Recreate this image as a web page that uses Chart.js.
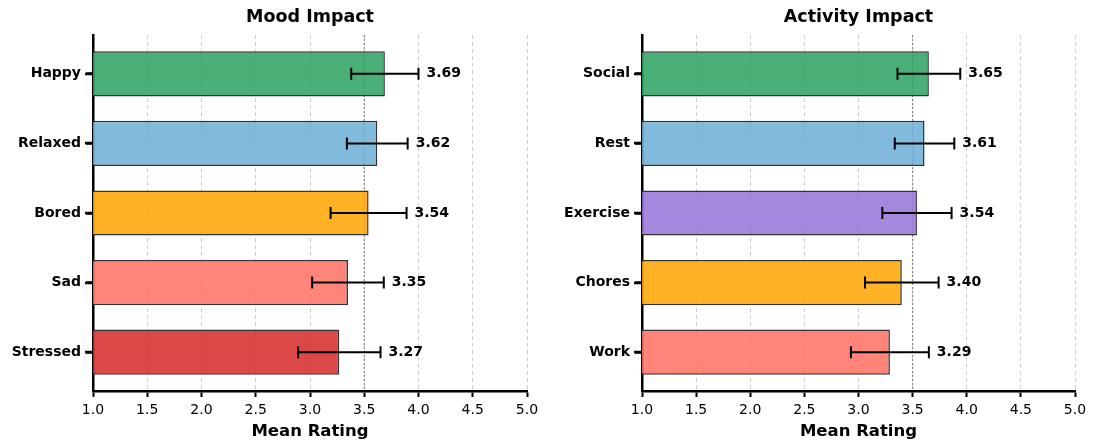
<!DOCTYPE html>
<html>
<head>
<meta charset="utf-8">
<script src="https://cdn.jsdelivr.net/npm/chart.js@4.4.1/dist/chart.umd.min.js"></script>
<style>
  body { margin: 0; background: #fff; }
  .wrap { position: absolute; top: 0; width: 547px; height: 445px; }
</style>
</head>
<body>
<div class="wrap" style="left:0"><canvas id="moodChart" width="547" height="445"></canvas></div>
<div class="wrap" style="left:547px"><canvas id="activityChart" width="547" height="445"></canvas></div>
<script>
// Mood panel
const moodLabels = ["Happy", "Relaxed", "Bored", "Sad", "Stressed"];
const moodMeans = [3.69, 3.62, 3.54, 3.35, 3.27];
const moodErrors = [0.31, 0.28, 0.35, 0.33, 0.38];
const moodColors = ["rgba(44,162,95,0.85)", "rgba(107,174,214,0.85)", "rgba(255,165,0,0.85)", "rgba(255,111,97,0.85)", "rgba(214,39,40,0.85)"];

// Activity panel
const activityLabels = ["Social", "Rest", "Exercise", "Chores", "Work"];
const activityMeans = [3.65, 3.61, 3.54, 3.40, 3.29];
const activityErrors = [0.29, 0.275, 0.32, 0.34, 0.36];
const activityColors = ["rgba(44,162,95,0.85)", "rgba(107,174,214,0.85)", "rgba(150,114,216,0.85)", "rgba(255,165,0,0.85)", "rgba(255,111,97,0.85)"];

const xTicks = [1.0, 1.5, 2.0, 2.5, 3.0, 3.5, 4.0, 4.5, 5.0];
const refLine = 3.5;

const FONT = "'DejaVu Sans', sans-serif";

// draws the dotted reference line, error bars, value labels and y tick marks
const extrasPlugin = {
    id: "extras",
    beforeDatasetsDraw(chart) {
        const { ctx, chartArea, scales } = chart;
        const x = scales.x.getPixelForValue(refLine);
        ctx.save();
        ctx.strokeStyle = "rgba(120,120,120,0.8)";
        ctx.lineWidth = 1.3;
        ctx.setLineDash([2, 2]);
        ctx.beginPath();
        ctx.moveTo(x, chartArea.top);
        ctx.lineTo(x, chartArea.bottom);
        ctx.stroke();
        ctx.restore();
    },
    afterDatasetsDraw(chart) {
        const { ctx, scales, chartArea } = chart;
        const opts = chart.options.plugins.extras;
        ctx.save();
        ctx.strokeStyle = "#000";
        ctx.lineWidth = 2;
        ctx.fillStyle = "#000";
        ctx.font = "bold 14px " + FONT;
        ctx.textBaseline = "middle";
        opts.means.forEach((m, i) => {
            const y = scales.y.getPixelForValue(i);
            const lo = scales.x.getPixelForValue(m - opts.errors[i]);
            const hi = scales.x.getPixelForValue(m + opts.errors[i]);
            ctx.beginPath();
            ctx.moveTo(lo, y); ctx.lineTo(hi, y);
            ctx.moveTo(lo, y - 6); ctx.lineTo(lo, y + 6);
            ctx.moveTo(hi, y - 6); ctx.lineTo(hi, y + 6);
            ctx.stroke();
            ctx.fillText(m.toFixed(2), hi + 8, y);
        });
        // y tick marks
        ctx.lineWidth = 2.5;
        scales.y.ticks.forEach(t => {
            const y = Math.round(scales.y.getPixelForValue(t.value));
            ctx.beginPath();
            ctx.moveTo(chartArea.left, y);
            ctx.lineTo(chartArea.left - 8, y);
            ctx.stroke();
        });
        ctx.restore();
    }
};

function makeChart(canvasId, title, labels, means, errors, colors, yWidth, rightPad) {
    const ctx = document.getElementById(canvasId).getContext("2d");
    return new Chart(ctx, {
        type: "bar",
        data: {
            datasets: [{
                data: means.map((v, i) => ({ x: v, y: i })),
                backgroundColor: colors,
                borderColor: "#333",
                borderWidth: 1.5,
                borderSkipped: false,
                barPercentage: 0.65,
                categoryPercentage: 1.0
            }]
        },
        options: {
            indexAxis: "y",
            responsive: false,
            animation: false,
            layout: { padding: { left: 0, right: rightPad, top: 0, bottom: 0 } },
            plugins: {
                legend: { display: false },
                tooltip: { enabled: false },
                title: {
                    display: true,
                    fullSize: false,
                    text: title,
                    color: "#000",
                    font: { family: FONT, size: 17.5, weight: "bold" },
                    padding: { top: 7, bottom: 7 }
                },
                extras: { means: means, errors: errors }
            },
            scales: {
                x: {
                    type: "linear",
                    min: 1,
                    max: 5,
                    afterBuildTicks: (scale) => { scale.ticks = xTicks.map(v => ({ value: v })); },
                    afterFit: (scale) => { scale.height = 54; },
                    ticks: {
                        color: "#000",
                        font: { family: FONT, size: 14 },
                        padding: 5,
                        callback: (v) => Number(v).toFixed(1)
                    },
                    grid: {
                        color: "rgba(190,190,190,0.75)",
                        lineWidth: 1,
                        tickLength: 6,
                        tickColor: "#000",
                        tickWidth: 2,
                        tickBorderDash: []
                    },
                    border: { display: true, color: "#000", width: 2.5, dash: [4, 3] },
                    title: {
                        display: true,
                        text: "Mean Rating",
                        color: "#000",
                        font: { family: FONT, size: 16.5, weight: "bold" },
                        padding: { top: 0, bottom: 3 }
                    }
                },
                y: {
                    type: "linear",
                    reverse: true,
                    offset: false,
                    min: -0.5575,
                    max: 4.5575,
                    afterBuildTicks: (scale) => { scale.ticks = labels.map((_, i) => ({ value: i })); },
                    afterFit: (scale) => { scale.width = yWidth; },
                    ticks: {
                        color: "#000",
                        font: { family: FONT, size: 14, weight: "bold" },
                        padding: 5,
                        callback: (v) => labels[v]
                    },
                    grid: {
                        offset: false,
                        drawOnChartArea: false,
                        tickLength: 7,
                        tickColor: "#000",
                        tickWidth: 2.5
                    },
                    border: { display: true, color: "#000", width: 2.5 }
                }
            }
        },
        plugins: [extrasPlugin]
    });
}

makeChart("moodChart", "Mood Impact", moodLabels, moodMeans, moodErrors, moodColors, 93, 20);
makeChart("activityChart", "Activity Impact", activityLabels, activityMeans, activityErrors, activityColors, 95, 19);
</script>
</body>
</html>
